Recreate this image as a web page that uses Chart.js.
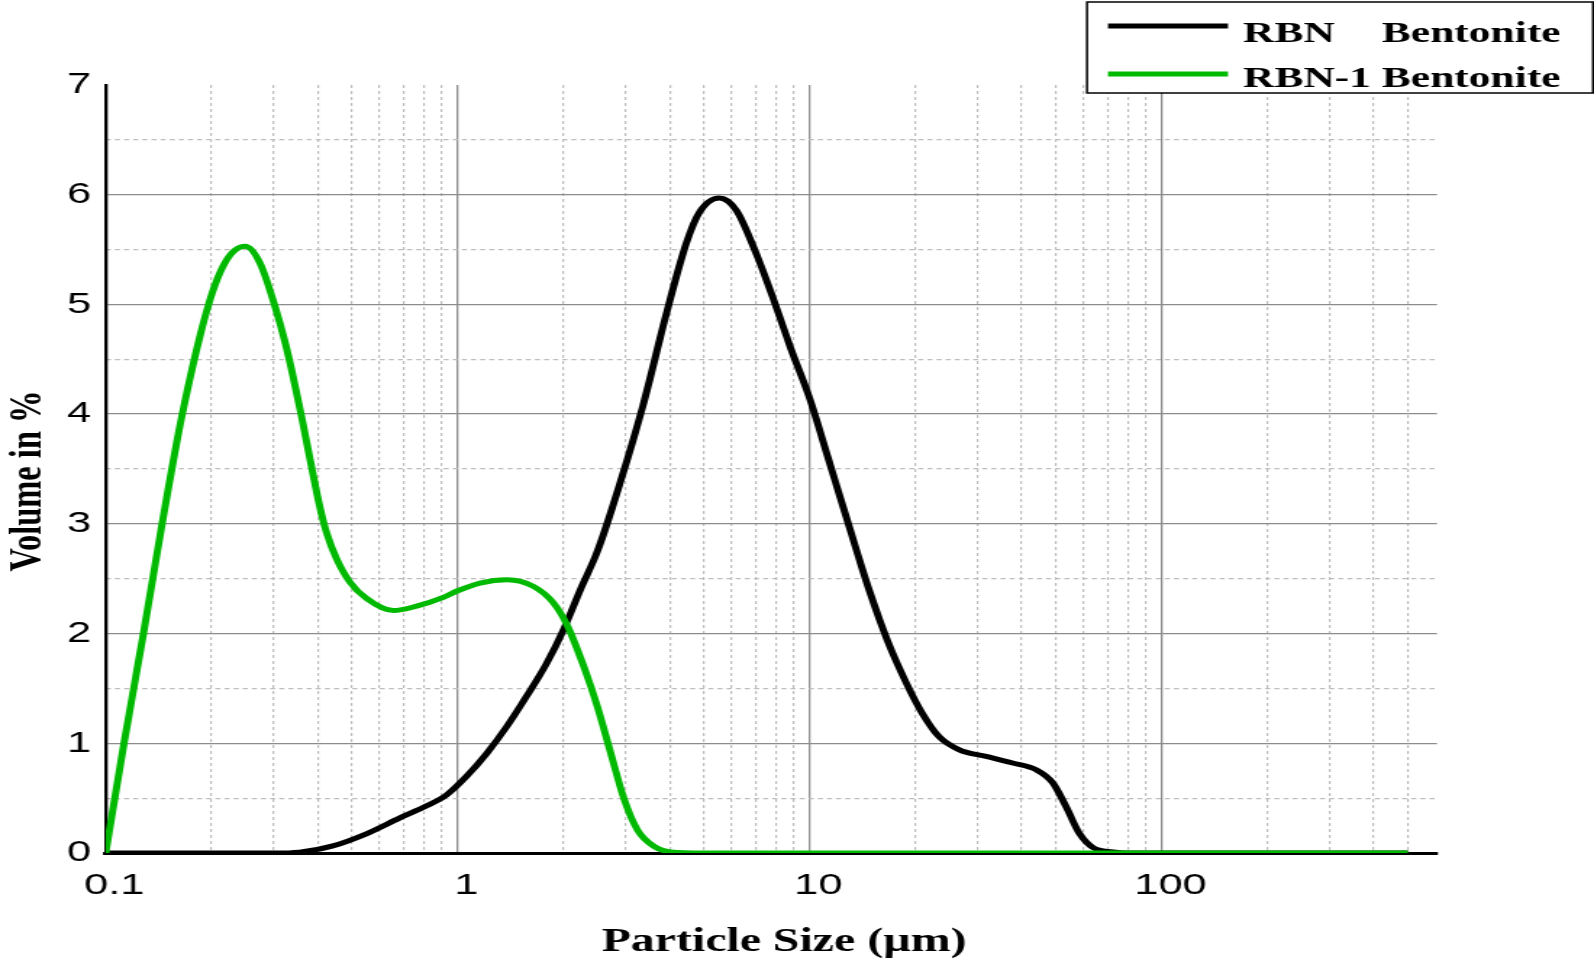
<!DOCTYPE html>
<html><head><meta charset="utf-8">
<script src="https://cdn.jsdelivr.net/npm/chart.js@4.4.1/dist/chart.umd.min.js"></script>
<style>
html,body{margin:0;padding:0;background:#fff;overflow:hidden;}
</style></head><body>
<canvas id="c" width="1100" height="962" style="width:1594px;height:962px;display:block;"></canvas>
<script>
// ---- data ----
const sizeRBN = [0.1, 0.2, 0.3, 0.355, 0.442, 0.55, 0.685, 0.816, 0.93, 1.06, 1.21, 1.38, 1.57, 1.79, 2.0, 2.23, 2.5, 2.89, 3.36, 3.91, 4.45, 4.86, 5.53, 6.18, 7.03, 7.84, 8.83, 10, 11.3, 12.9, 14.7, 16.7, 18.8, 20.9, 23.3, 26.6, 31.7, 37.7, 43.9, 49, 53.5, 58.3, 63.7, 72.6, 80, 100, 200, 500];
const volRBN  = [0, 0, 0, 0.008, 0.065, 0.175, 0.32, 0.43, 0.53, 0.70, 0.91, 1.155, 1.43, 1.73, 2.04, 2.40, 2.76, 3.37, 4.08, 4.91, 5.55, 5.84, 5.97, 5.86, 5.47, 5.07, 4.60, 4.14, 3.59, 2.99, 2.41, 1.92, 1.55, 1.27, 1.06, 0.94, 0.88, 0.82, 0.76, 0.64, 0.42, 0.18, 0.05, 0.01, 0, 0, 0, 0];
const sizeRBN1 = [0.1, 0.1127, 0.128, 0.1446, 0.165, 0.196, 0.22, 0.249, 0.274, 0.3027, 0.323, 0.337, 0.36, 0.38, 0.406, 0.424, 0.453, 0.494, 0.551, 0.656, 0.764, 0.91, 1.0, 1.158, 1.38, 1.64, 1.87, 2.05, 2.28, 2.49, 2.72, 2.97, 3.24, 3.61, 4.03, 5, 10, 100, 500];
const volRBN1  = [0, 1.0, 2.0, 3.0, 4.0, 5.0, 5.4, 5.53, 5.38, 4.98, 4.66, 4.41, 3.98, 3.6, 3.15, 2.92, 2.68, 2.47, 2.32, 2.21, 2.25, 2.33, 2.39, 2.46, 2.49, 2.43, 2.28, 2.07, 1.70, 1.34, 0.91, 0.49, 0.21, 0.06, 0.01, 0, 0, 0, 0];

const seriesNames = ['RBN', 'RBN-1'];
const legendSuffix = 'Bentonite';
const xTitle = 'Particle Size (\u00b5m)';
const yTitle = 'Volume in %';

const xMajorTicks = [0.1, 1, 10, 100];
const xTickLabels = ['0.1', '1', '10', '100'];
const xMinorTicks = [0.2,0.3,0.4,0.5,0.6,0.7,0.8,0.9, 2,3,4,5,6,7,8,9, 20,30,40,50,60,70,80,90, 200,300,400,500];
const yMajorTicks = [0, 1, 2, 3, 4, 5, 6, 7];
const yTickLabels = ['0', '1', '2', '3', '4', '5', '6', '7'];
const yMinorTicks = [0.5, 1.5, 2.5, 3.5, 4.5, 5.5, 6.5];
const xMin = 0.1, xMax = 605, yMin = 0, yMax = 7;

// ---- layout (canvas is drawn narrow and stretched horizontally like the reference) ----
const W = 1100, H = 962;
const SX = 1594 / W;
const plotLeft = 105.7 / SX, plotRight = 1437 / SX, plotTop = 85, plotBottom = 853;
const GREEN = '#00b900';
const MAJOR = '#8c8c8c', MINOR = '#bdbdbd';
const sans = '"Liberation Sans", Arial, sans-serif';
const serif = '"Liberation Serif", "Times New Roman", serif';

const toXY = (xs, ys) => xs.map((x, i) => ({x: x, y: ys[i]}));

const decorPlugin = {
  id: 'decor',
  afterDraw(chart) {
    const ctx = chart.ctx;
    ctx.save();
    ctx.fillStyle = '#000';
    // x title
    ctx.font = 'bold 33px ' + serif;
    ctx.textAlign = 'center';
    ctx.textBaseline = 'alphabetic';
    ctx.fillText(xTitle, 784 / SX, 951);
    // y title
    ctx.save();
    ctx.translate(28 / SX, 481);
    ctx.rotate(-Math.PI / 2);
    ctx.font = 'bold 32.5px ' + serif;
    ctx.textAlign = 'center';
    ctx.textBaseline = 'middle';
    ctx.fillText(yTitle, 0, 0);
    ctx.restore();
    // legend box
    const bx = 1087 / SX, by = 2, bw = (1593 - 1087) / SX, bh = 91;
    ctx.fillStyle = '#fff';
    ctx.fillRect(bx, by, bw, bh);
    ctx.strokeStyle = '#000';
    ctx.lineWidth = 1.5;
    ctx.strokeRect(bx, by, bw, bh);
    const colors = ['#000', GREEN];
    const rows = [26, 74];
    const bases = [42, 87];
    ctx.font = 'bold 30px ' + serif;
    ctx.textAlign = 'left';
    const tx = 1243 / SX;
    const tx2 = tx + ctx.measureText(seriesNames[1] + ' ').width;
    for (let i = 0; i < 2; i++) {
      ctx.strokeStyle = colors[i];
      ctx.lineWidth = 5;
      ctx.beginPath();
      ctx.moveTo(1108 / SX, rows[i]);
      ctx.lineTo(1228 / SX, rows[i]);
      ctx.stroke();
      ctx.fillStyle = '#000';
      ctx.fillText(seriesNames[i], tx, bases[i]);
      ctx.fillText(legendSuffix, tx2, bases[i]);
    }
    ctx.restore();
  }
};

new Chart(document.getElementById('c'), {
  type: 'line',
  data: {
    datasets: [
      { label: seriesNames[1] + ' ' + legendSuffix, data: toXY(sizeRBN1, volRBN1), borderColor: GREEN, borderWidth: 5,
        pointRadius: 0, fill: false, cubicInterpolationMode: 'monotone', xAxisID: 'x', yAxisID: 'y' },
      { label: seriesNames[0] + '    ' + legendSuffix, data: toXY(sizeRBN, volRBN), borderColor: '#000', borderWidth: 5,
        pointRadius: 0, fill: false, cubicInterpolationMode: 'monotone', xAxisID: 'x', yAxisID: 'y' }
    ]
  },
  options: {
    responsive: false,
    devicePixelRatio: 1,
    animation: false,
    events: [],
    layout: { padding: { left: 0, top: plotTop, right: W - plotRight, bottom: 0 } },
    plugins: { legend: { display: false }, tooltip: { enabled: false } },
    scales: {
      x: {
        type: 'logarithmic', position: 'bottom', min: xMin, max: xMax,
        afterBuildTicks: s => { s.ticks = xMajorTicks.map(v => ({value: v})); },
        afterFit: s => { s.height = H - plotBottom; },
        grid: { drawTicks: false, lineWidth: 1.3,
                color: c => (c.tick && c.tick.value === xMin) ? 'rgba(0,0,0,0)' : MAJOR },
        border: { display: true, color: '#000', width: 3 },
        ticks: { autoSkip: false, maxRotation: 0, minRotation: 0, padding: 15, labelOffset: 6,
                 color: '#000', font: { family: sans, size: 30 },
                 callback: (v, i) => xTickLabels[i] }
      },
      xMinor: {
        type: 'logarithmic', position: 'bottom', min: xMin, max: xMax,
        afterBuildTicks: s => { s.ticks = xMinorTicks.map(v => ({value: v})); },
        afterFit: s => { s.height = 0; },
        grid: { drawTicks: false, lineWidth: 1.2, color: MINOR },
        border: { display: false, dash: [3, 3] },
        ticks: { display: false }
      },
      y: {
        type: 'linear', position: 'left', min: yMin, max: yMax,
        afterBuildTicks: s => { s.ticks = yMajorTicks.map(v => ({value: v})); },
        afterFit: s => { s.width = plotLeft; },
        grid: { drawTicks: false, lineWidth: 1.3,
                color: c => (c.tick && (c.tick.value === yMin || c.tick.value === yMax)) ? 'rgba(0,0,0,0)' : MAJOR },
        border: { display: true, color: '#000', width: 2.3 },
        ticks: { padding: 10, color: '#000', font: { family: sans, size: 30 },
                 callback: (v, i) => yTickLabels[i] }
      },
      yMinor: {
        type: 'linear', position: 'left', min: yMin, max: yMax,
        afterBuildTicks: s => { s.ticks = yMinorTicks.map(v => ({value: v})); },
        afterFit: s => { s.width = 0; },
        grid: { drawTicks: false, lineWidth: 1.2, color: MINOR },
        border: { display: false, dash: [3.5, 2.8] },
        ticks: { display: false }
      }
    }
  },
  plugins: [decorPlugin]
});
</script>
</body></html>
